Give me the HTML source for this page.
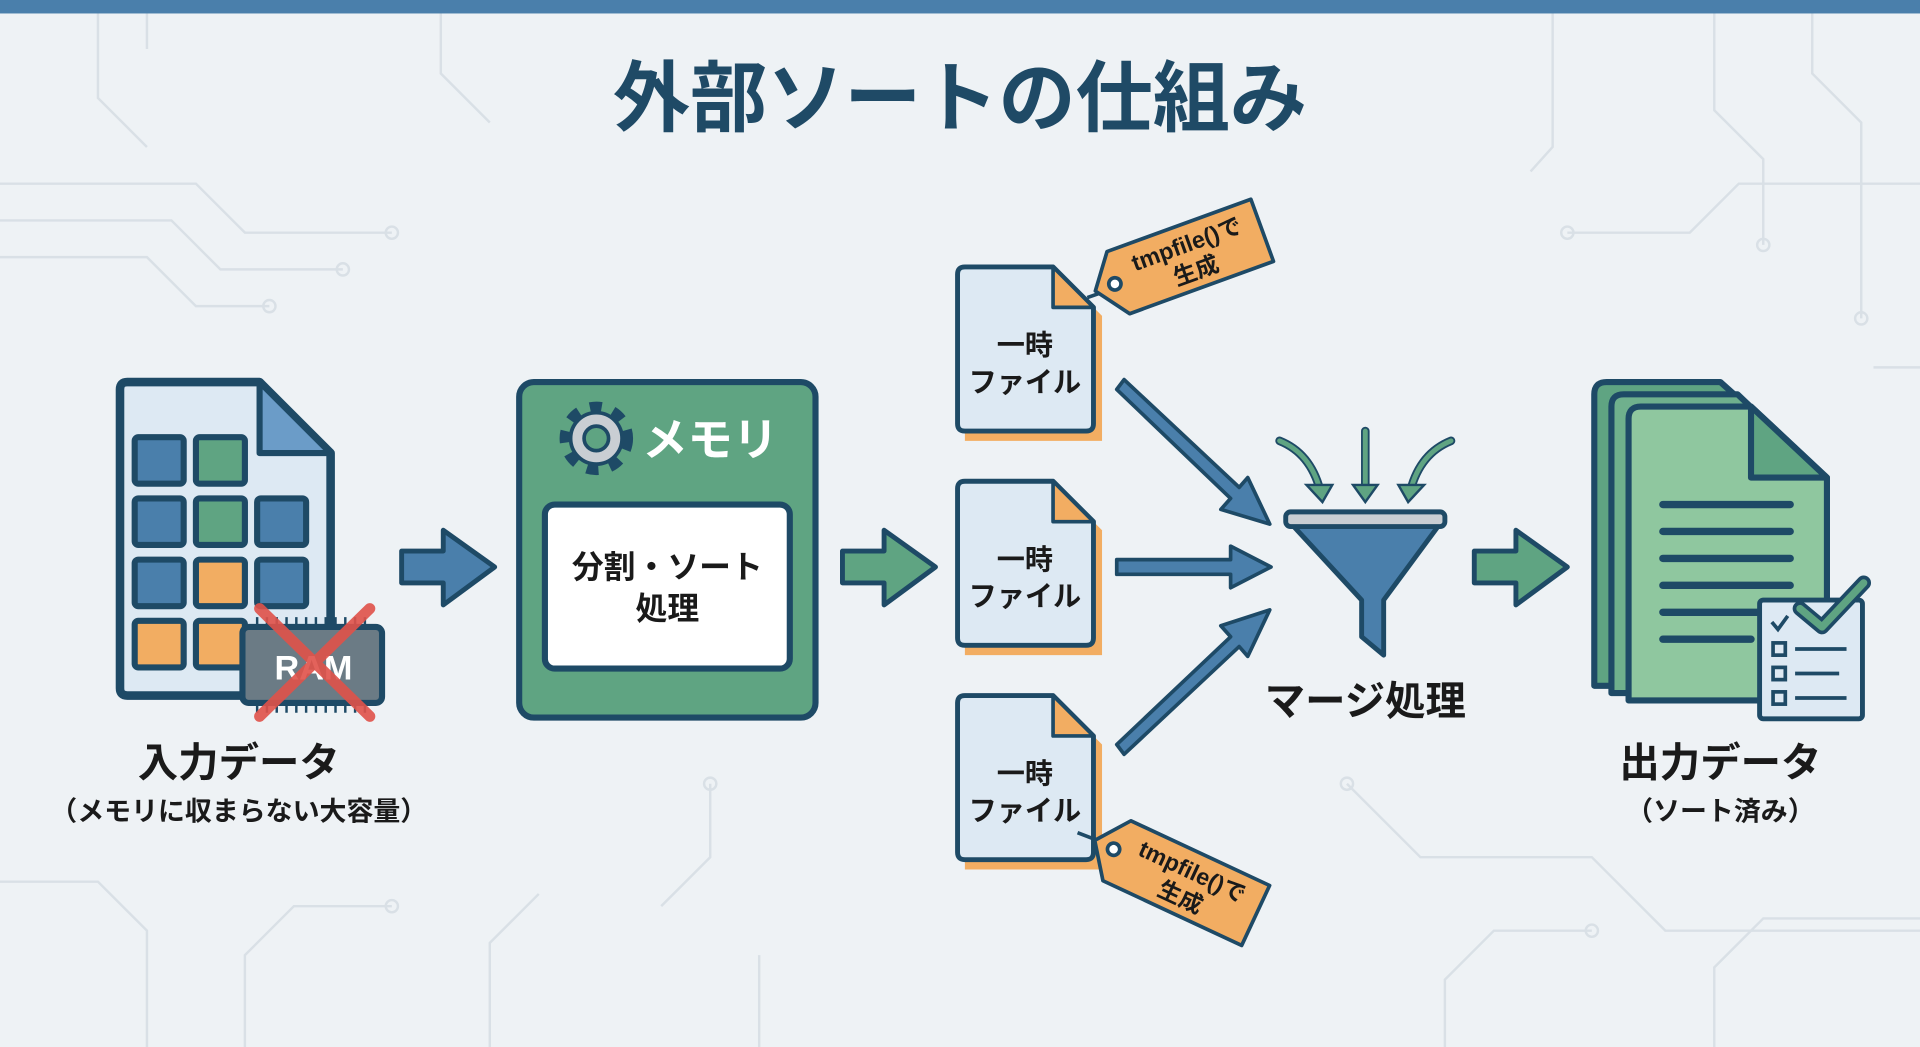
<!DOCTYPE html>
<html><head><meta charset="utf-8"><style>
html,body{margin:0;padding:0;background:#eef2f5;}
svg{display:block}
text{font-family:"Liberation Sans","Noto Sans CJK JP",sans-serif;font-weight:bold}
</style></head><body>
<svg width="1920" height="1047" viewBox="0 0 1568 855" preserveAspectRatio="none" xmlns="http://www.w3.org/2000/svg">
<rect width="1568" height="855" fill="#eef2f5"/>
<g stroke="#d9e0e6" stroke-width="2" fill="none">
<path d="M0 150 H160 L200 190 H320"/><path d="M0 180 H140 L180 220 H280"/><path d="M0 210 H120 L160 250 H220"/>
<path d="M80 0 V80 L120 120"/><path d="M120 0 V40"/><path d="M360 0 V60 L400 100"/>
<path d="M1568 150 H1420 L1380 190 H1280"/><path d="M1400 0 V90 L1440 130 V200"/><path d="M1480 0 V60 L1520 100 V260"/>
<path d="M1268 0 V120 L1250 140"/><path d="M1568 300 H1530"/>
<path d="M0 720 H80 L120 760 V855"/><path d="M200 855 V780 L240 740 H320"/><path d="M400 855 V770 L440 730"/>
<path d="M1100 640 L1160 700 H1300 L1360 760 H1568"/><path d="M1180 855 V800 L1220 760 H1300"/><path d="M1400 855 V790 L1440 750 H1568"/>
<path d="M580 640 V700 L540 740"/><path d="M620 855 V780"/>
</g>
<g fill="none" stroke="#d9e0e6" stroke-width="2">
<circle cx="320" cy="190" r="5"/><circle cx="280" cy="220" r="5"/><circle cx="220" cy="250" r="5"/><circle cx="1280" cy="190" r="5"/><circle cx="1440" cy="200" r="5"/><circle cx="1520" cy="260" r="5"/><circle cx="320" cy="740" r="5"/><circle cx="1300" cy="760" r="5"/><circle cx="580" cy="640" r="5"/><circle cx="1100" cy="640" r="5"/>
</g>
<rect width="1568" height="11" fill="#4a7fab"/>
<text x="784" y="102" font-size="63" fill="#1f4a66" text-anchor="middle">外部ソートの仕組み</text>

<path d="M104 312 H212 L270 370 V562 Q270 568 264 568 H104 Q98 568 98 562 V318 Q98 312 104 312 Z" fill="#dde9f3" stroke="#1e4a66" stroke-width="7" stroke-linejoin="round"/>
<path d="M212 312 V370 H270 Z" fill="#6b9cc8" stroke="#1e4a66" stroke-width="5" stroke-linejoin="round"/>
<g stroke="#1e4a66" stroke-width="5">
<rect x="110" y="357" width="40" height="38" rx="3" fill="#4a7fab"/><rect x="160" y="357" width="40" height="38" rx="3" fill="#5fa482"/>
<rect x="110" y="407" width="40" height="38" rx="3" fill="#4a7fab"/><rect x="160" y="407" width="40" height="38" rx="3" fill="#5fa482"/><rect x="210" y="407" width="40" height="38" rx="3" fill="#4a7fab"/>
<rect x="110" y="457" width="40" height="38" rx="3" fill="#4a7fab"/><rect x="160" y="457" width="40" height="38" rx="3" fill="#f2ad62"/><rect x="210" y="457" width="40" height="38" rx="3" fill="#4a7fab"/>
<rect x="110" y="507" width="40" height="38" rx="3" fill="#f2ad62"/><rect x="160" y="507" width="40" height="38" rx="3" fill="#f2ad62"/>
</g>
<rect x="198" y="512" width="114" height="62" rx="5" fill="#6b7b85" stroke="#1e4a66" stroke-width="5"/>
<g stroke="#1e4a66" stroke-width="2"><path d="M210 504 V512 M218 504 V512 M226 504 V512 M234 504 V512 M242 504 V512 M250 504 V512 M258 504 V512 M266 504 V512 M274 504 V512 M282 504 V512 M290 504 V512 M298 504 V512"/><path d="M210 574 V582 M218 574 V582 M226 574 V582 M234 574 V582 M242 574 V582 M250 574 V582 M258 574 V582 M266 574 V582 M274 574 V582 M282 574 V582 M290 574 V582 M298 574 V582"/></g>
<text x="256" y="555" font-size="28" fill="#fff" text-anchor="middle">RAM</text>
<path d="M212 497 L302 585 M302 497 L212 585" stroke="#e0524a" stroke-width="9" stroke-linecap="round" opacity="0.9"/>
<text x="195" y="634" font-size="33" fill="#1a1a1a" text-anchor="middle">入力データ</text>
<text x="195" y="670" font-size="22" fill="#1a1a1a" text-anchor="middle">（メモリに収まらない大容量）</text>

<path d="M328 450 H362 V433 L404 463 L362 494 V476 H328 Z" fill="#4a7fab" stroke="#1e4a66" stroke-width="4" stroke-linejoin="round"/>
<path d="M688 450 H722 V433 L764 463 L722 494 V476 H688 Z" fill="#5fa482" stroke="#1e4a66" stroke-width="4" stroke-linejoin="round"/>
<path d="M1204 450 H1238 V433 L1280 463 L1238 494 V476 H1204 Z" fill="#5fa482" stroke="#1e4a66" stroke-width="4" stroke-linejoin="round"/>

<rect x="424" y="312" width="242" height="274" rx="12" fill="#5fa482" stroke="#1e4a66" stroke-width="5"/>
<g transform="translate(487 358)">
<circle r="24" fill="none" stroke="#1e4a66" stroke-width="12" stroke-dasharray="9 9"/>
<circle r="21" fill="#c9ced3" stroke="#1e4a66" stroke-width="3"/>
<circle r="10" fill="#5fa482" stroke="#1e4a66" stroke-width="3"/>
</g>
<text x="580" y="372" font-size="37" fill="#fff" text-anchor="middle">メモリ</text>
<rect x="445" y="412" width="200" height="134" rx="8" fill="#fff" stroke="#1e4a66" stroke-width="5"/>
<text x="545" y="472" font-size="26" fill="#1a1a1a" text-anchor="middle">分割・ソート</text>
<text x="545" y="506" font-size="26" fill="#1a1a1a" text-anchor="middle">処理</text>

<g id="tf">
<path d="M788 224 H866 L900 258 V360 H788 Z" fill="#f2ad62"/>
<path d="M788 218 H860 L893 251 V346 Q893 352 887 352 H788 Q782 352 782 346 V224 Q782 218 788 218 Z" fill="#dde9f3" stroke="#1e4a66" stroke-width="4" stroke-linejoin="round"/>
<path d="M860 218 V251 H893 Z" fill="#f2ad62" stroke="#1e4a66" stroke-width="3" stroke-linejoin="round"/>
</g>
<text x="837" y="290" font-size="23" fill="#1a1a1a" text-anchor="middle">一時</text>
<text x="837" y="320" font-size="23" fill="#1a1a1a" text-anchor="middle">ファイル</text>
<use href="#tf" transform="translate(0 175)"/>
<text x="837" y="465" font-size="23" fill="#1a1a1a" text-anchor="middle">一時</text>
<text x="837" y="495" font-size="23" fill="#1a1a1a" text-anchor="middle">ファイル</text>
<use href="#tf" transform="translate(0 350)"/>
<text x="837" y="640" font-size="23" fill="#1a1a1a" text-anchor="middle">一時</text>
<text x="837" y="670" font-size="23" fill="#1a1a1a" text-anchor="middle">ファイル</text>

<line x1="888" y1="243" x2="908" y2="236" stroke="#1e4a66" stroke-width="3"/>
<g transform="translate(965 212) rotate(-20)">
<path d="M-55 -27 H70 V27 H-55 L-75 0 Z" fill="#f2ad62" stroke="#1e4a66" stroke-width="3" stroke-linejoin="round"/>
<circle cx="-58" cy="0" r="5" fill="#fff" stroke="#1e4a66" stroke-width="3"/>
<text x="8" y="-4" font-size="19" fill="#1a1a1a" text-anchor="middle">tmpfile()で</text>
<text x="8" y="19" font-size="19" fill="#1a1a1a" text-anchor="middle">生成</text>
</g>
<line x1="880" y1="680" x2="906" y2="690" stroke="#1e4a66" stroke-width="3"/>
<g transform="translate(962 718) rotate(25)">
<path d="M-55 -27 H70 V27 H-55 L-75 0 Z" fill="#f2ad62" stroke="#1e4a66" stroke-width="3" stroke-linejoin="round"/>
<circle cx="-58" cy="0" r="5" fill="#fff" stroke="#1e4a66" stroke-width="3"/>
<text x="8" y="-4" font-size="19" fill="#1a1a1a" text-anchor="middle">tmpfile()で</text>
<text x="8" y="19" font-size="19" fill="#1a1a1a" text-anchor="middle">生成</text>
</g>

<g fill="#4a7fab" stroke="#1e4a66" stroke-width="3" stroke-linejoin="round">
<path d="M912 318 L918 310 L1012 398 L1019 390 L1037 428 L997 416 L1005 407 L912 318 Z"/>
<path d="M912 457 H1005 V446 L1038 463 L1005 480 V469 H912 Z"/>
<path d="M912 608 L1005 520 L997 511 L1037 498 L1019 536 L1012 528 L918 616 Z"/>
</g>
<g fill="none" stroke="#1e4a66" stroke-width="7" stroke-linecap="round"><path d="M1045 360 Q1070 370 1078 400"/><path d="M1115 352 V398"/><path d="M1185 360 Q1160 370 1152 400"/></g>
<g fill="none" stroke="#5fa482" stroke-width="4" stroke-linecap="round"><path d="M1045 360 Q1070 370 1078 400"/><path d="M1115 352 V398"/><path d="M1185 360 Q1160 370 1152 400"/></g>
<g fill="#5fa482" stroke="#1e4a66" stroke-width="2"><path d="M1067 396 L1088 396 L1080 410 Z"/><path d="M1105 396 L1125 396 L1115 410 Z"/><path d="M1142 396 L1163 396 L1150 410 Z"/></g>
<path d="M1052 425 H1178 L1130 490 V535 L1112 520 V490 Z" fill="#4a7fab" stroke="#1e4a66" stroke-width="4" stroke-linejoin="round"/>
<rect x="1050" y="418" width="130" height="12" rx="4" fill="#c9ced3" stroke="#1e4a66" stroke-width="4"/>
<text x="1115" y="584" font-size="33" fill="#1a1a1a" text-anchor="middle">マージ処理</text>

<g stroke="#1e4a66" stroke-width="5" stroke-linejoin="round">
<path d="M1302 322 Q1302 312 1312 312 H1405 L1470 370 V560 H1302 Z" fill="#5fa482"/>
<path d="M1316 332 Q1316 322 1326 322 H1419 L1480 380 V566 H1316 Z" fill="#6fb08d"/>
<path d="M1330 342 Q1330 332 1340 332 H1430 L1492 390 V572 H1330 Z" fill="#8fc79f"/>
<path d="M1430 332 V390 H1492 Z" fill="#5fa482"/>
</g>
<g stroke="#1e4a66" stroke-width="6" stroke-linecap="round"><path d="M1358 412 H1462 M1358 434 H1462 M1358 456 H1462 M1358 478 H1462 M1358 500 H1440 M1358 522 H1430"/></g>
<rect x="1437" y="490" width="84" height="97" rx="3" fill="#dde9f3" stroke="#1e4a66" stroke-width="4"/>
<path d="M1470 497 L1488 512 L1522 476" fill="none" stroke="#1e4a66" stroke-width="12" stroke-linecap="round" stroke-linejoin="round"/>
<path d="M1470 497 L1488 512 L1522 476" fill="none" stroke="#5fa482" stroke-width="6" stroke-linecap="round" stroke-linejoin="round"/>
<g fill="none" stroke="#1e4a66" stroke-width="3"><rect x="1448" y="525" width="10" height="10"/><rect x="1448" y="545" width="10" height="10"/><rect x="1448" y="565" width="10" height="10"/><path d="M1466 530 H1508 M1466 550 H1502 M1466 570 H1508 M1447 508 L1452 514 L1460 503"/></g>
<text x="1405" y="634" font-size="33" fill="#1a1a1a" text-anchor="middle">出力データ</text>
<text x="1405" y="670" font-size="22" fill="#1a1a1a" text-anchor="middle">（ソート済み）</text>
</svg>
</body></html>
